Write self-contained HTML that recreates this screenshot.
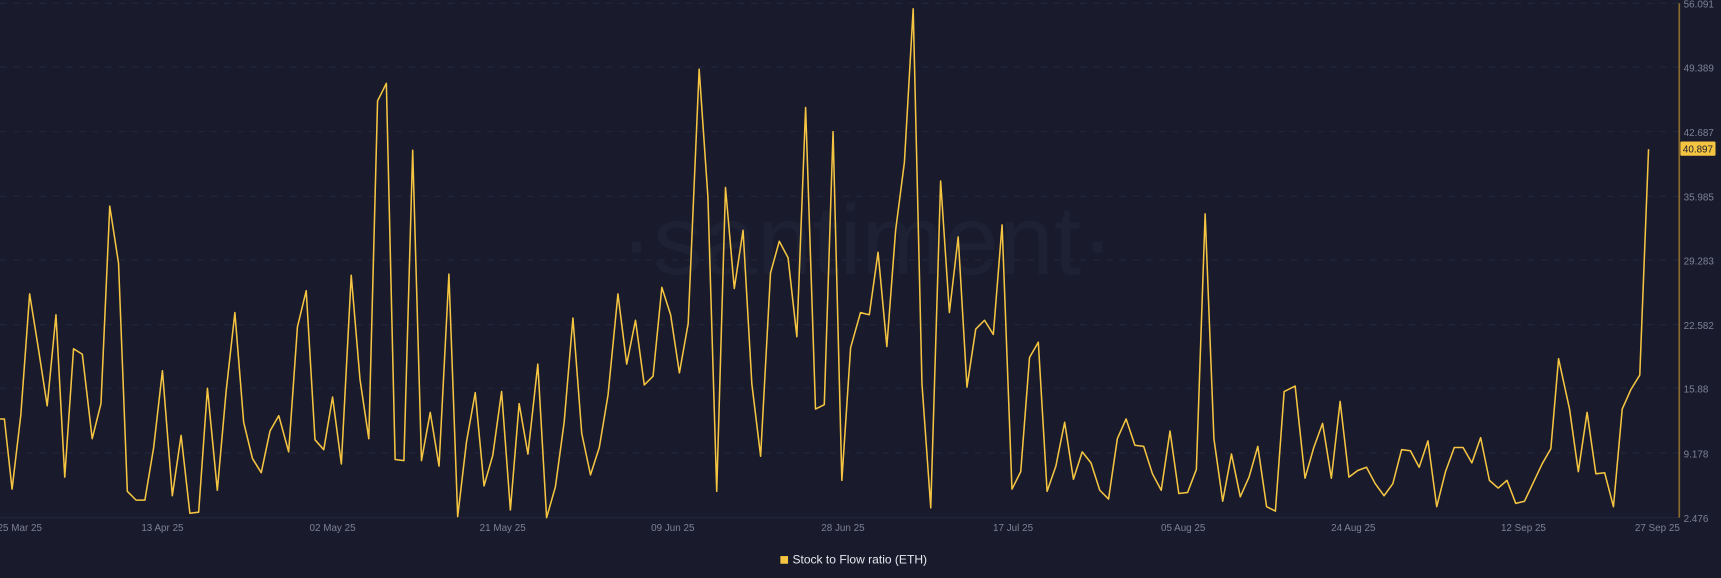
<!DOCTYPE html>
<html><head><meta charset="utf-8"><style>
html,body{margin:0;padding:0;background:#191b2c;}
svg{display:block}
text{font-family:"Liberation Sans",sans-serif;}
</style></head><body>
<svg width="1721" height="578" viewBox="0 0 1568 527" preserveAspectRatio="none" xmlns="http://www.w3.org/2000/svg">
<rect width="1568" height="527" fill="#191b2c"/>
<g stroke="#23263a" stroke-width="1" stroke-dasharray="6,6">
<line x1="0" y1="3" x2="1530" y2="3"/><line x1="0" y1="61" x2="1530" y2="61"/><line x1="0" y1="120" x2="1530" y2="120"/><line x1="0" y1="179" x2="1530" y2="179"/><line x1="0" y1="237" x2="1530" y2="237"/><line x1="0" y1="296" x2="1530" y2="296"/><line x1="0" y1="354" x2="1530" y2="354"/><line x1="0" y1="413" x2="1530" y2="413"/>
</g>
<line x1="0" y1="472" x2="1530" y2="472" stroke="#23263a"/>
<text x="790" y="250" font-size="90" fill="#1e2133" text-anchor="middle">·santiment·</text>
<line x1="1530" y1="3" x2="1530" y2="472" stroke="#8a6d2e" stroke-width="1.5"/>
<g font-size="9" fill="#7d8196">
<text x="1534" y="7">56.091</text><text x="1534" y="65">49.389</text><text x="1534" y="124">42.687</text><text x="1534" y="183">35.985</text><text x="1534" y="241">29.283</text><text x="1534" y="300">22.582</text><text x="1534" y="358">15.88</text><text x="1534" y="417">9.178</text><text x="1534" y="476">2.476</text>
</g>
<g font-size="9" fill="#7d8196" text-anchor="middle">
<text x="18" y="484">25 Mar 25</text><text x="148" y="484">13 Apr 25</text><text x="303" y="484">02 May 25</text><text x="458" y="484">21 May 25</text><text x="613" y="484">09 Jun 25</text><text x="768" y="484">28 Jun 25</text><text x="923" y="484">17 Jul 25</text><text x="1078" y="484">05 Aug 25</text><text x="1233" y="484">24 Aug 25</text><text x="1388" y="484">12 Sep 25</text><text x="1510" y="484">27 Sep 25</text>
</g>
<polyline fill="none" stroke="#f5c542" stroke-width="1.4" stroke-linejoin="round" points="0,382 4,382 11,446 19,378 27,268 35,318 43,370 51,287 59,435 67,318 75,323 84,400 92,368 100,188 108,240 116,448 124,456 132,456 140,408 148,338 157,452 165,397 173,468 181,467 189,354 198,447 206,357 214,285 222,385 230,418 238,431 246,393 254,379 263,412 271,298 279,265 287,401 295,410 303,362 311,423 320,251 328,346 336,400 344,92 352,76 360,419 368,420 376,137 384,420 392,376 400,425 409,250 417,471 425,403 433,358 441,443 449,415 457,357 465,465 473,368 481,414 490,332 498,472 506,444 514,385 522,290 530,395 538,433 546,408 554,360 563,268 571,332 579,292 587,351 595,343 603,262 611,287 619,340 627,295 637,63 645,180 653,448 661,171 669,263 677,210 685,350 693,416 702,249 710,220 718,235 726,307 734,98 743,373 751,369 759,120 767,438 775,317 784,285 792,287 800,230 808,316 816,210 824,148 832,8 840,350 848,463 857,165 865,285 873,216 881,353 889,300 897,292 905,305 913,205 922,446 930,430 938,326 946,312 954,448 962,425 970,385 978,437 986,412 994,422 1002,447 1010,455 1018,400 1026,382 1034,406 1042,407 1050,432 1058,447 1066,393 1074,450 1082,449 1090,428 1098,195 1106,400 1114,457 1122,414 1130,453 1138,435 1146,407 1154,462 1162,466 1170,357 1180,352 1189,436 1197,408 1205,386 1213,436 1221,366 1229,435 1237,429 1245,426 1253,441 1261,452 1269,441 1277,410 1285,411 1293,426 1301,402 1309,462 1317,430 1325,408 1333,408 1341,422 1349,399 1357,438 1365,445 1373,438 1381,459 1389,457 1397,440 1405,423 1413,409 1420,327 1430,373 1438,430 1446,376 1454,432 1462,431 1470,462 1478,373 1486,355 1494,342 1502,136"/>
<rect x="1531" y="129" width="32" height="13" fill="#f5c542" rx="1"/>
<text x="1547" y="139" font-size="9" fill="#1a1c2d" text-anchor="middle">40.897</text>
<rect x="711" y="507" width="7" height="7" fill="#f5c542"/>
<text x="722" y="514" font-size="11" fill="#e6e8ef">Stock to Flow ratio (ETH)</text>
</svg>
</body></html>
